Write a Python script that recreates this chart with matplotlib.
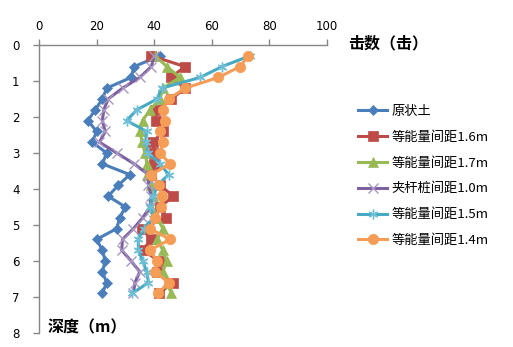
import matplotlib
matplotlib.use("Agg")
import matplotlib.pyplot as plt

plt.rcParams['font.family'] = ['Noto Sans CJK SC', 'DejaVu Sans']

depth = [0.3, 0.6, 0.9, 1.2, 1.5, 1.8, 2.1, 2.4, 2.7, 3.0, 3.3, 3.6, 3.9,
         4.2, 4.5, 4.8, 5.1, 5.4, 5.7, 6.0, 6.3, 6.6, 6.9]

labels = ['原状土', '等能量间距1.6m', '等能量间距1.7m', '夹杆桩间距1.0m',
          '等能量间距1.5m', '等能量间距1.4m']

s_orig = [42, 33, 32, 23.5, 22, 19.5, 17, 20, 18.5, 23.5, 22, 31.5, 27.5,
          24, 30, 28, 27, 20, 22, 23, 22, 23.5, 22]
s_16 = [39, 50.7, 45.8, 50.7, 46, 40.3, 40.6, 43, 39.6, 40, 40, 39, 42,
        46.7, 42, 44, 35.6, 39, 36, 41.7, 41, 46.5, 41.7]
s_17 = [40.3, 44.4, 48.9, 43, 42, 38.5, 36, 35, 35.8, 36.8, 37.5, 37.5, 39,
        39.6, 39, 41, 43, 41, 43, 44.3, 43, 44.3, 46]
s_10 = [40, 39, 35, 29, 24, 22.5, 22, 23, 21, 27, 33, 38, 38,
        39, 38.5, 36, 32.8, 29, 28.7, 32, 35, 33.3, 32.8]
s_15 = [73.3, 63.5, 56, 42.6, 41, 34, 30.4, 37.4, 37, 38, 42, 45, 41,
        39.7, 38.5, 39.7, 36.3, 34.5, 34.5, 36, 37.4, 38, 32.4]
s_14 = [72.7, 69.8, 62.3, 50.7, 45, 43, 43.8, 42, 43, 42, 45.5, 39, 41.8,
        42.6, 42.3, 40.3, 38.5, 45.5, 38.5, 41, 40.3, 45, 41.4]

series = [s_orig, s_16, s_17, s_10, s_15, s_14]
colors = ['#4A7EBB', '#BE4B48', '#98B954', '#7D60A0', '#46AAC5', '#F59D56']
mcolors = ['#4A7EBB', '#BE4B48', '#98B954', '#A897C2', '#6FC0D6', '#F59D56']
markers = ['D', 's', '^', 'x', (6, 2, 0), 'o']
msizes = [5.5, 7, 7, 7, 7, 7.5]

fig = plt.figure(figsize=(5.13, 3.47), dpi=100)
ax = fig.add_axes([39/513, 1-333/347, (327-39)/513, (333-45)/347])

for vals, c, mc, m, ms, lab in zip(series, colors, mcolors, markers, msizes, labels):
    ax.plot(vals, depth, color=c, lw=2.2, marker=m, markersize=ms,
            markeredgewidth=1.0 if m in ('x', (6, 2, 0)) else 0.5,
            markeredgecolor=mc, markerfacecolor=mc, label=lab)

ax.set_xlim(0, 100)
ax.set_ylim(8, 0)
ax.xaxis.tick_top()
ax.set_xticks([0, 20, 40, 60, 80, 100])
ax.set_yticks(range(0, 9))
for sp in ['right', 'bottom']:
    ax.spines[sp].set_visible(False)
for sp in ['left', 'top']:
    ax.spines[sp].set_color('#868686')
    ax.spines[sp].set_linewidth(1.0)
ax.tick_params(axis='both', direction='out', color='#868686', length=4,
               labelsize=8.5, labelcolor='black', width=1.0)
for t in ax.get_xticklabels() + ax.get_yticklabels():
    t.set_fontfamily('DejaVu Sans')
ax.tick_params(axis='x', pad=5)
ax.tick_params(axis='y', pad=10)

fig.text(348/513, 1-43/347, '击数（击）', fontsize=11.5, fontweight='bold',
         va='center', ha='left')
fig.text(48/513, 1-327/347, '深度（m）', fontsize=11.5, fontweight='bold',
         va='center', ha='left')

fig.legend(loc='upper left', bbox_to_anchor=(358/513, 1-105/347),
           frameon=False, fontsize=9.5, handlelength=2.2, handletextpad=0.35,
           labelspacing=0.97, borderpad=0, borderaxespad=0)

fig.savefig('out.png', dpi=100)
